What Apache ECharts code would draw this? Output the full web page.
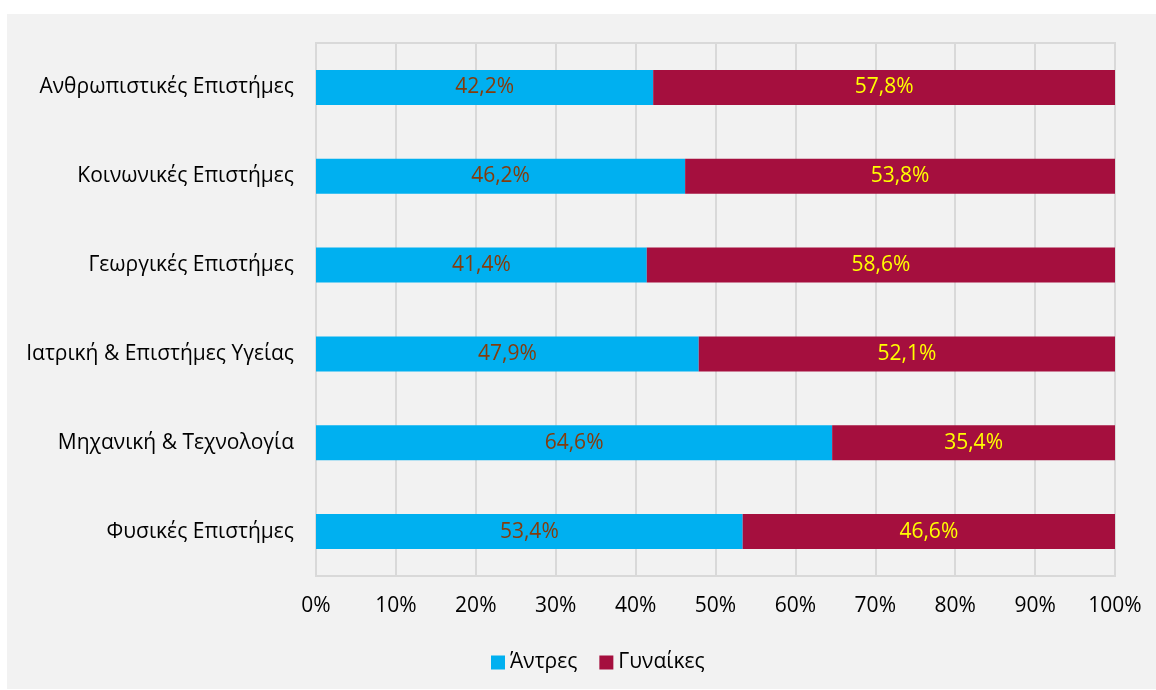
<!DOCTYPE html>
<html>
<head>
<meta charset="utf-8">
<script src="https://cdn.jsdelivr.net/npm/echarts@6/dist/echarts.min.js"></script>
<style>
html,body{margin:0;padding:0;background:#ffffff;}
#chart{width:1156px;height:690px;}
</style>
</head>
<body>
<div id="chart"></div>
<script>
const categories = ["Ανθρωπιστικές Επιστήμες","Κοινωνικές Επιστήμες","Γεωργικές Επιστήμες","Ιατρική & Επιστήμες Υγείας","Μηχανική & Τεχνολογία","Φυσικές Επιστήμες"];
const men = [42.2, 46.2, 41.4, 47.9, 64.6, 53.4];
const women = [57.8, 53.8, 58.6, 52.1, 35.4, 46.6];
const seriesNames = ["Άντρες","Γυναίκες"];

const FONT = "'Open Sans', 'Noto Sans', sans-serif";
const fmt = p => p.value.toFixed(1).replace('.', ',') + '%';

const chart = echarts.init(document.getElementById('chart'));
chart.setOption({
  animation: false,
  backgroundColor: 'transparent',
  graphic: [{
    type: 'rect', z: -10, silent: true,
    shape: {x: 7, y: 14, width: 1149, height: 675},
    style: {fill: '#f2f2f2'}
  }],
  grid: {left: 316, right: 41, top: 43, bottom: 114, containLabel: false, show: true, borderColor: '#d9d9d9', borderWidth: 2, backgroundColor: 'transparent'},
  legend: {
    top: 647, left: 486,
    itemWidth: 14, itemHeight: 14, itemGap: 22,
    icon: 'rect',
    textStyle: {fontFamily: FONT, fontSize: 21, color: '#000'},
    data: seriesNames
  },
  xAxis: {
    type: 'value', min: 0, max: 100, interval: 10,
    axisLabel: {formatter: '{value}%', fontFamily: FONT, fontSize: 21, color: '#000', margin: 20},
    axisLine: {show: false}, axisTick: {show: false},
    splitLine: {show: true, lineStyle: {color: '#d9d9d9', width: 2}}
  },
  yAxis: {
    type: 'category', data: categories, inverse: true,
    axisLabel: {fontFamily: FONT, fontSize: 21, color: '#000', margin: 22},
    axisLine: {show: true, lineStyle: {color: '#d9d9d9', width: 2}},
    axisTick: {show: false}
  },
  series: [
    {name: seriesNames[0], type: 'bar', stack: 'a', data: men, barWidth: 35,
     itemStyle: {color: '#00b0f0'},
     label: {show: true, position: 'inside', formatter: fmt, color: '#843c0c', fontFamily: FONT, fontSize: 21}},
    {name: seriesNames[1], type: 'bar', stack: 'a', data: women, barWidth: 35,
     itemStyle: {color: '#a50f3e'},
     label: {show: true, position: 'inside', formatter: fmt, color: '#ffff00', fontFamily: FONT, fontSize: 21}}
  ]
});
</script>
</body>
</html>
